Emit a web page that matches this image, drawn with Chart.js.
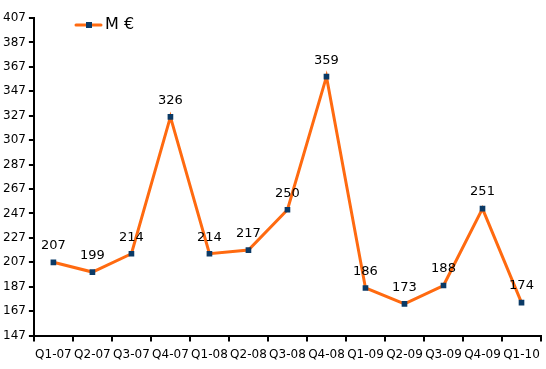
<!DOCTYPE html>
<html>
<head>
<meta charset="utf-8">
<script src="https://cdn.jsdelivr.net/npm/chart.js@4/dist/chart.umd.min.js"></script>
<style>
  html, body { margin: 0; padding: 0; background: #fff; }
  #wrap { width: 546px; height: 369px; }
</style>
</head>
<body>
<div id="wrap"><canvas id="chart"></canvas></div>
<script>
const quarters = ["Q1-07", "Q2-07", "Q3-07", "Q4-07", "Q1-08", "Q2-08", "Q3-08", "Q4-08", "Q1-09", "Q2-09", "Q3-09", "Q4-09", "Q1-10"];
const revenue = [207, 199, 214, 326, 214, 217, 250, 359, 186, 173, 188, 251, 174];
const seriesName = "M €";
const yMin = 147;
const yMax = 407;
const yStep = 20;

const lineColor = "#ff6a10";
const markColor = "#0b3a66";
const font = "DejaVu Sans";

// values above the points
const valueLabels = {
  id: "valueLabels",
  afterDatasetsDraw(chart) {
    const ctx = chart.ctx;
    const meta = chart.getDatasetMeta(0);
    ctx.save();
    ctx.font = "13px '" + font + "'";
    ctx.fillStyle = "#000";
    ctx.textAlign = "center";
    ctx.textBaseline = "bottom";
    meta.data.forEach((pt, i) => {
      ctx.fillText(chart.data.datasets[0].data[i], pt.x, pt.y - 10);
    });
    ctx.restore();
  }
};

// small legend inside the plot, top left
const insideLegend = {
  id: "insideLegend",
  afterDraw(chart) {
    const ctx = chart.ctx;
    const x = 76, y = 25;
    ctx.save();
    ctx.strokeStyle = lineColor;
    ctx.lineWidth = 3;
    ctx.lineCap = "round";
    ctx.beginPath();
    ctx.moveTo(x, y);
    ctx.lineTo(x + 25, y);
    ctx.stroke();
    ctx.fillStyle = markColor;
    ctx.fillRect(x + 10, y - 3, 6, 6);
    ctx.font = "16px '" + font + "'";
    ctx.fillStyle = "#000";
    ctx.textBaseline = "middle";
    ctx.fillText(chart.data.datasets[0].label, x + 29, y);
    ctx.restore();
  }
};

new Chart(document.getElementById("chart"), {
  type: "line",
  data: {
    labels: quarters,
    datasets: [{
      label: seriesName,
      data: revenue,
      borderColor: lineColor,
      borderWidth: 3,
      tension: 0,
      pointStyle: "rect",
      pointRadius: 4,
      pointBackgroundColor: markColor,
      pointBorderColor: markColor,
      pointBorderWidth: 0
    }]
  },
  options: {
    responsive: true,
    maintainAspectRatio: false,
    animation: false,
    layout: { padding: { top: 18, right: 1, left: 0, bottom: 1 } },
    plugins: {
      legend: { display: false },
      tooltip: { enabled: false }
    },
    scales: {
      x: {
        offset: true,
        grid: { display: true, drawOnChartArea: false, offset: true, tickLength: 6, color: "#000", lineWidth: 2 },
        border: { color: "#000", width: 2 },
        ticks: { color: "#000", font: { family: font, size: 12 }, maxRotation: 0, autoSkip: false, padding: 6 }
      },
      y: {
        min: yMin,
        max: yMax,
        grid: { display: true, drawOnChartArea: false, tickLength: 5, color: "#000", lineWidth: 2 },
        border: { color: "#000", width: 2 },
        ticks: { stepSize: yStep, color: "#000", font: { family: font, size: 12 }, padding: 3 }
      }
    }
  },
  plugins: [valueLabels, insideLegend]
});
</script>
</body>
</html>
